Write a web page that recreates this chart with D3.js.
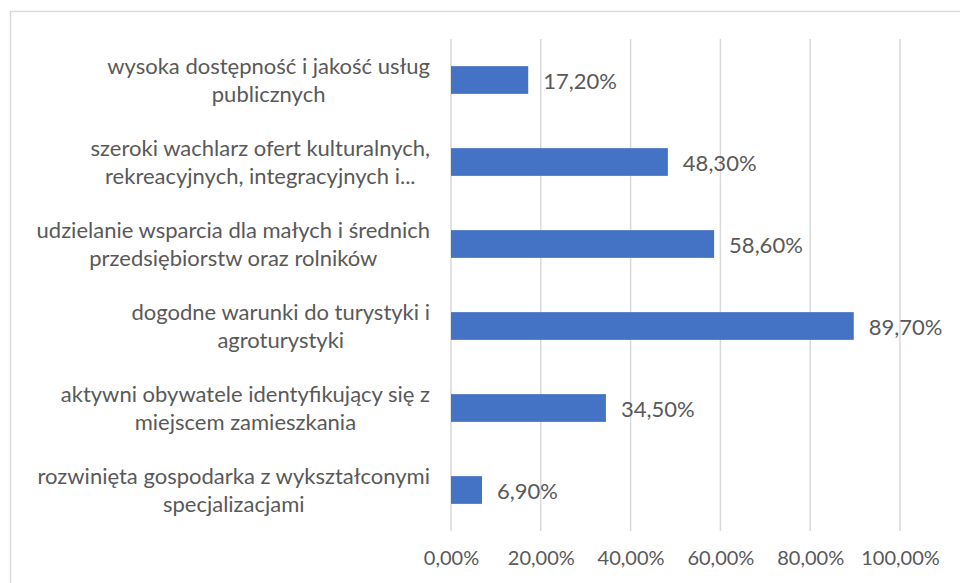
<!DOCTYPE html>
<html>
<head>
<meta charset="utf-8">
<script src="https://cdn.jsdelivr.net/npm/d3@7"></script>
<style>
  html, body { margin: 0; padding: 0; background: #fff; }
  svg { display: block; }
  text { font-family: Lato, "Open Sans", sans-serif; fill: #595959; }
</style>
</head>
<body>
<svg id="chart" width="960" height="583"></svg>
<script>
// Categories, top to bottom; each label is split into its two display lines
const categories = [
  ["wysoka dostępność i jakość usług", "publicznych"],
  ["szeroki wachlarz ofert kulturalnych,", "rekreacyjnych, integracyjnych i..."],
  ["udzielanie wsparcia dla małych i średnich", "przedsiębiorstw oraz rolników"],
  ["dogodne warunki do turystyki i", "agroturystyki"],
  ["aktywni obywatele identyfikujący się z", "miejscem zamieszkania"],
  ["rozwinięta gospodarka z wykształconymi", "specjalizacjami"]
];
const values = [17.2, 48.3, 58.6, 89.7, 34.5, 6.9];
const tickValues = [0, 20, 40, 60, 80, 100];

const fmt = v => v.toFixed(2).replace(".", ",") + "%";

const svg = d3.select("#chart");
const tickFont = 20;
const labelFont = 22;

// Outer frame of the chart area
svg.append("rect")
  .attr("x", 10.5).attr("y", 11.5)
  .attr("width", 960).attr("height", 600)
  .attr("fill", "none")
  .attr("stroke", "#d9d9d9")
  .attr("stroke-width", 1.5);

const x = d3.scaleLinear().domain([0, 100]).range([451, 900]);
const y = d3.scaleBand()
  .domain(d3.range(categories.length))
  .range([39, 531])
  .paddingInner(0.662)
  .paddingOuter(0.331);

// Vertical gridlines
svg.append("g")
  .selectAll("line")
  .data(tickValues)
  .join("line")
  .attr("x1", d => x(d)).attr("x2", d => x(d))
  .attr("y1", 39).attr("y2", 531)
  .attr("stroke", "#d9d9d9")
  .attr("stroke-width", 1.5);

// X axis tick labels
const xAxis = d3.axisBottom(x)
  .tickValues(tickValues)
  .tickSize(0)
  .tickFormat(fmt);
const gx = svg.append("g")
  .attr("transform", "translate(0,531)")
  .call(xAxis);
gx.select(".domain").remove();
gx.selectAll("text")
  .attr("y", 0)
  .attr("dy", 34)
  .style("font-family", "Lato, 'Open Sans', sans-serif")
  .style("font-size", tickFont + "px")
  .style("fill", "#595959");

// Bars
svg.append("g")
  .selectAll("rect")
  .data(values)
  .join("rect")
  .attr("x", x(0))
  .attr("y", (d, i) => y(i))
  .attr("width", d => x(d) - x(0))
  .attr("height", y.bandwidth())
  .attr("fill", "#4472C4");

// Value labels to the right of the bars
svg.append("g")
  .selectAll("text")
  .data(values)
  .join("text")
  .attr("x", d => x(d) + 15)
  .attr("y", (d, i) => y(i) + y.bandwidth() / 2 + 9)
  .style("font-size", labelFont + "px")
  .text(d => fmt(d));

// Category labels: two centred lines, block right-aligned next to the axis
const labelRight = 430;
const lab = svg.append("g");
categories.forEach((lines, i) => {
  const cy = y(i) + y.bandwidth() / 2;
  const g = lab.append("g");
  const texts = lines.map((t, k) =>
    g.append("text")
      .attr("y", cy + (k === 0 ? -6 : 22))
      .attr("text-anchor", "middle")
      .style("font-size", labelFont + "px")
      .text(t)
  );
  const maxW = d3.max(texts, t => t.node().getComputedTextLength());
  texts.forEach(t => t.attr("x", labelRight - maxW / 2));
});
</script>
</body>
</html>
